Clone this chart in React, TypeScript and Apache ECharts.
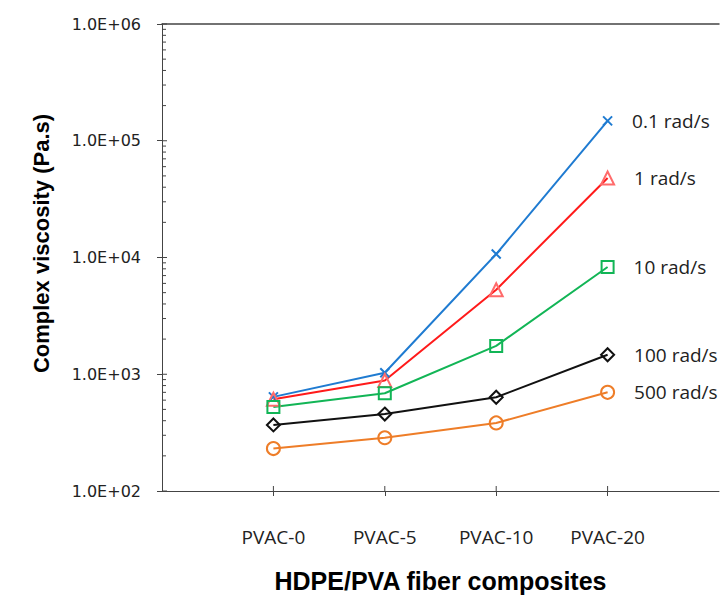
import React, { useEffect, useRef } from "react";
import * as echarts from "echarts";

const categories = ["", "PVAC-0", "PVAC-5", "PVAC-10", "PVAC-20", ""];
const seriesNames = ["0.1 rad/s", "1 rad/s", "10 rad/s", "100 rad/s", "500 rad/s"];
const visc01 = [640, 1030, 10700, 148000];
const visc1 = [610, 885, 5300, 47900];
const visc10 = [524, 687, 1750, 8300];
const visc100 = [368, 456, 635, 1470];
const visc500 = [231, 286, 383, 700];
const yMajorTicks = [100, 1000, 10000, 100000, 1000000];
const yMinorMultipliers = [2, 3, 4, 5, 6, 7, 8, 9];
const yDecades = [100, 1000, 10000, 100000];

const AXIS_COLOR = "#444";

export default function App() {
  const ref = useRef<HTMLDivElement>(null);
  useEffect(() => {
    if (!ref.current) return;
    const chart = echarts.init(ref.current, null, { renderer: "svg" });

    const seriesDefs = [
      { name: seriesNames[0], data: visc01, line: "#1f7bd1", mark: "#1f7bd1", symbol: "path://M0,0L10,10M10,0L0,10", size: 9 },
      { name: seriesNames[1], data: visc1, line: "#ff1a1a", mark: "#ff6b6b", symbol: "triangle", size: 13 },
      { name: seriesNames[2], data: visc10, line: "#12b556", mark: "#12b556", symbol: "rect", size: 12 },
      { name: seriesNames[3], data: visc100, line: "#111111", mark: "#111111", symbol: "diamond", size: 13 },
      { name: seriesNames[4], data: visc500, line: "#ee7d28", mark: "#ee7d28", symbol: "circle", size: 13 },
    ];

    const tickData: number[][] = [];
    yMajorTicks.forEach((v) => tickData.push([0, v, 5]));
    yDecades.forEach((d) => yMinorMultipliers.forEach((m) => tickData.push([0, d * m, 4])));
    const xTickData = [1, 2, 3, 4].map((i) => [i, 100]);

    const lineSeries = seriesDefs.map((s) => ({
      type: "line",
      name: s.name,
      data: s.data.map((v, i) => [i + 1, v]),
      symbol: s.symbol,
      symbolSize: s.size,
      showAllSymbol: true,
      lineStyle: { color: s.line, width: 2 },
      itemStyle: { color: "rgba(0,0,0,0)", borderColor: s.mark, borderWidth: 2 },
      label: {
        show: true,
        position: "right",
        distance: 19,
        color: "#222",
        fontFamily: "Open Sans",
        fontSize: 19,
        formatter: (p: any) => (p.dataIndex === s.data.length - 1 ? s.name : ""),
      },
      emphasis: { disabled: true },
      z: 3,
    }));

    chart.setOption({
      animation: false,
      backgroundColor: "#fff",
      grid: { left: 162, right: 0, top: 24, bottom: 102, containLabel: false },
      xAxis: [
        {
          type: "category",
          data: categories,
          boundaryGap: false,
          axisLine: { show: true, lineStyle: { color: AXIS_COLOR, width: 1 } },
          axisTick: {
            show: true,
            length: 5,
            interval: (index: number) => index >= 1 && index <= 4,
            lineStyle: { color: AXIS_COLOR },
          },
          axisLabel: {
            interval: 0,
            margin: 36,
            color: "#222",
            fontFamily: "Open Sans",
            fontSize: 19,
          },
          splitLine: { show: false },
          name: "HDPE/PVA fiber composites",
          nameLocation: "middle",
          nameGap: 77,
          nameTextStyle: {
            color: "#000",
            fontFamily: "Liberation Sans",
            fontWeight: "bold",
            fontSize: 25,
          },
        },
        {
          type: "category",
          data: categories,
          boundaryGap: false,
          position: "top",
          axisLine: { show: true, lineStyle: { color: AXIS_COLOR, width: 1.5 } },
          axisTick: { show: false },
          axisLabel: { show: false },
          splitLine: { show: false },
        },
      ],
      yAxis: {
        type: "log",
        logBase: 10,
        min: 100,
        max: 1000000,
        axisLine: { show: true, lineStyle: { color: AXIS_COLOR, width: 1 } },
        axisTick: { show: true, length: 5, lineStyle: { color: AXIS_COLOR } },
        axisLabel: {
          margin: 21,
          color: "#222",
          fontFamily: "DejaVu Sans",
          fontSize: 16,
          formatter: (v: number) => {
            const e = Math.round(Math.log10(v));
            return "1.0E+" + String(e).padStart(2, "0");
          },
        },
        splitLine: { show: false },
        name: "Complex viscosity (Pa.s)",
        nameLocation: "middle",
        nameGap: 110,
        nameTextStyle: {
          color: "#000",
          fontFamily: "Liberation Sans",
          fontWeight: "bold",
          fontSize: 22,
          padding: [0, 0, 0, 28],
        },
      },
      series: [
        ...lineSeries,
        {
          type: "custom",
          name: "yTicksInside",
          data: tickData,
          silent: true,
          z: 1,
          renderItem: (params: any, api: any) => {
            const p = api.coord([api.value(0), api.value(1)]);
            const len = api.value(2);
            return {
              type: "line",
              shape: { x1: p[0], y1: p[1], x2: p[0] + len, y2: p[1] },
              style: { stroke: AXIS_COLOR, lineWidth: 1 },
            };
          },
        },
        {
          type: "custom",
          name: "xTicksInside",
          data: xTickData,
          silent: true,
          z: 1,
          renderItem: (params: any, api: any) => {
            const p = api.coord([api.value(0), api.value(1)]);
            return {
              type: "line",
              shape: { x1: p[0], y1: p[1], x2: p[0], y2: p[1] - 5 },
              style: { stroke: AXIS_COLOR, lineWidth: 1 },
            };
          },
        },
      ],
    });
    return () => chart.dispose();
  }, []);
  return (
    <div
      ref={ref}
      style={{ position: "fixed", left: 0, top: 0, width: 722, height: 598 }}
    />
  );
}
